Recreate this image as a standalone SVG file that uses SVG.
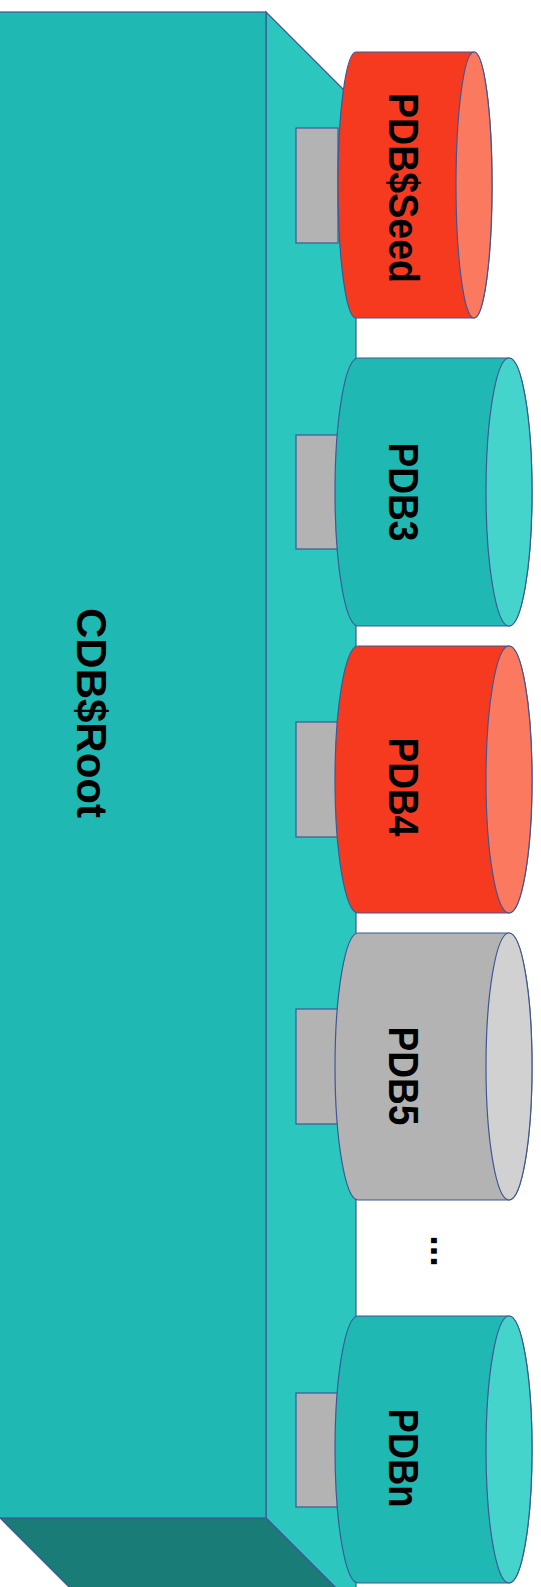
<svg xmlns="http://www.w3.org/2000/svg" width="541" height="1587" viewBox="0 0 541 1587">
<style>
.ln{stroke:#3F5796;stroke-width:1.2}
.front{fill:#20B8B2}
.side{fill:#2BC7BF}
.bottom{fill:#1A7C77}
.plug{fill:#B3B3B3}
.redB{fill:#F63A20}
.redE{fill:#FB7A5F}
.tealB{fill:#20B8B2}
.tealE{fill:#45D4CC}
.grayB{fill:#B3B3B3}
.grayE{fill:#D1D1D1}
.lbl{font-family:"Liberation Sans",Arial,sans-serif;font-weight:bold;font-size:42px;fill:#000}
</style>
<rect width="541" height="1587" fill="#FFFFFF"/>
<g id="cdb-root">
<polygon class="side ln" points="266,12 356,102 356,1608 266,1518"/>
<polygon class="bottom ln" points="0,1518 266,1518 356,1608 90,1608"/>
<rect class="front ln" x="-2" y="12" width="268" height="1506"/>
<text class="lbl" transform="translate(77,713) rotate(90)" text-anchor="middle" textLength="210" lengthAdjust="spacingAndGlyphs">CDB$Root</text>
</g>
<g id="connectors">
<rect class="plug ln" x="296" y="128" width="42" height="115"/>
<rect class="plug ln" x="296" y="435" width="42" height="114"/>
<rect class="plug ln" x="296" y="722" width="42" height="115"/>
<rect class="plug ln" x="296" y="1009" width="42" height="115"/>
<rect class="plug ln" x="296" y="1393" width="42" height="114"/>
</g>
<g id="pdb-seed">
<path class="redB ln" d="M356,52 H474 A18,133 0 0 1 474,318 H356 A18,133 0 0 1 356,52 Z"/>
<ellipse class="redE ln" cx="474" cy="185" rx="18" ry="133"/>
<text class="lbl" transform="translate(389,188) rotate(90)" text-anchor="middle" textLength="190" lengthAdjust="spacingAndGlyphs">PDB$Seed</text>
</g>
<g id="pdb3">
<path class="tealB ln" d="M358,358 H509 A23,134 0 0 1 509,626 H358 A23,134 0 0 1 358,358 Z"/>
<ellipse class="tealE ln" cx="509" cy="492" rx="23" ry="134"/>
<text class="lbl" transform="translate(389,492) rotate(90)" text-anchor="middle" textLength="99" lengthAdjust="spacingAndGlyphs">PDB3</text>
</g>
<g id="pdb4">
<path class="redB ln" d="M358,646 H509 A23,133.5 0 0 1 509,913 H358 A23,133.5 0 0 1 358,646 Z"/>
<ellipse class="redE ln" cx="509" cy="779.5" rx="23" ry="133.5"/>
<text class="lbl" transform="translate(389,787) rotate(90)" text-anchor="middle" textLength="99" lengthAdjust="spacingAndGlyphs">PDB4</text>
</g>
<g id="pdb5">
<path class="grayB ln" d="M358,933 H509 A23,133.5 0 0 1 509,1200 H358 A23,133.5 0 0 1 358,933 Z"/>
<ellipse class="grayE ln" cx="509" cy="1066.5" rx="23" ry="133.5"/>
<text class="lbl" transform="translate(389,1076) rotate(90)" text-anchor="middle" textLength="99" lengthAdjust="spacingAndGlyphs">PDB5</text>
</g>
<g id="ellipsis">
<text class="lbl" font-size="38" style="font-size:38px" transform="translate(431,1251) rotate(90)" text-anchor="middle">...</text>
</g>
<g id="pdbn">
<path class="tealB ln" d="M358,1316 H509 A23,133.5 0 0 1 509,1583 H358 A23,133.5 0 0 1 358,1316 Z"/>
<ellipse class="tealE ln" cx="509" cy="1449.5" rx="23" ry="133.5"/>
<text class="lbl" transform="translate(389,1458) rotate(90)" text-anchor="middle" textLength="99" lengthAdjust="spacingAndGlyphs">PDBn</text>
</g>
</svg>
